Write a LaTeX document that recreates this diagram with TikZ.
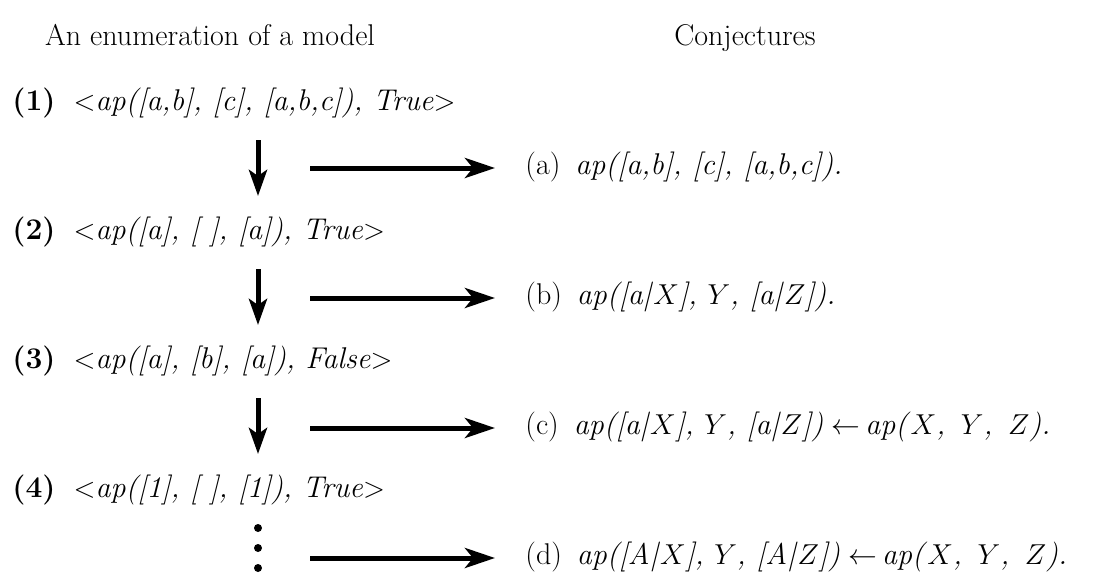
\documentclass[tikz,border=0pt]{standalone}
\usepackage{amsmath,amssymb}
\usetikzlibrary{arrows.meta,positioning,calc}

\tikzset{
  txt/.style={anchor=base west, inner sep=0pt, font=\fontsize{15}{18}\selectfont},
  head/.style={txt, anchor=base},
  downarr/.style={line width=2.5pt, -{Stealth[length=13pt,width=9pt,inset=3pt]}},
  rightarr/.style={line width=2.5pt, -{Stealth[length=15pt,width=10pt,inset=4pt]}}
}
\newcommand{\vX}{$X$}
\newcommand{\vY}{$Y$}
\newcommand{\vZ}{$Z$}

\begin{document}
\begin{tikzpicture}[x=0.5pt,y=-0.5pt]

\useasboundingbox (0,0) rectangle (1105,575);

% headings
\node[head] (enumhead) at (210,45) {An enumeration of a model};
\node[head] (conjhead) at (745,45) {Conjectures};

% the enumeration
\node[txt] (r1) at (12,110) {\textbf{(1)}\hspace{0.6em}$<$\textit{ap([a,b], [c], [a,b,c]), True}$>$};
\node[txt] (r2) at (12,239) {\textbf{(2)}\hspace{0.6em}$<$\textit{ap([a], [\ ], [a]), True}$>$};
\node[txt] (r3) at (12,368) {\textbf{(3)}\hspace{0.6em}$<$\textit{ap([a], [b], [a]), False}$>$};
\node[txt] (r4) at (12,497) {\textbf{(4)}\hspace{0.6em}$<$\textit{ap([1], [\ ], [1]), True}$>$};

% the conjectures
\node[txt] (c1) at (525,174) {(a)\enspace\textit{ap([a,b], [c], [a,b,c]).}};
\node[txt] (c2) at (525,304) {(b)\enspace\textit{ap([a|}\vX\textit{], }\vY\textit{, [a|}\vZ\textit{]).}};
\node[txt] (c3) at (525,434) {(c)\enspace\textit{ap([a|}\vX\textit{], }\vY\textit{, [a|}\vZ\textit{])}\;$\leftarrow$\,\textit{ap(}\vX\textit{,\, }\vY\textit{,\, }\vZ\textit{).}};
\node[txt] (c4) at (525,564) {(d)\enspace\textit{ap([A|}\vX\textit{], }\vY\textit{, [A|}\vZ\textit{])}\;$\leftarrow$\,\textit{ap(}\vX\textit{,\, }\vY\textit{,\, }\vZ\textit{).}};

\coordinate (ax) at (258,0);
\coordinate (tx) at (310,0);

% down the enumeration
\draw[downarr] ($(r1.base -| ax)+(0,30)$) -- ($(r2.base -| ax)+(0,-43)$);
\draw[downarr] ($(r2.base -| ax)+(0,30)$) -- ($(r3.base -| ax)+(0,-43)$);
\draw[downarr] ($(r3.base -| ax)+(0,30)$) -- ($(r4.base -| ax)+(0,-43)$);
\foreach \dy in {31,51,71}
  \fill ($(r4.base -| ax)+(0,\dy)$) circle (2pt);

% over to the conjectures
\foreach \c in {c1,c2,c3,c4}
  \draw[rightarr] ($(\c.base west -| tx)+(0,-6)$) -- ($(\c.base west)+(-30,-6)$);

\end{tikzpicture}
\end{document}
